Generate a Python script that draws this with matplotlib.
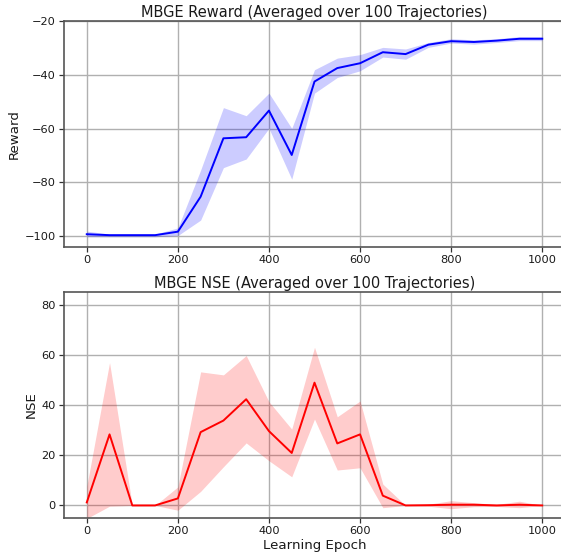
import numpy as np
import matplotlib
matplotlib.use("Agg")
import matplotlib.pyplot as plt

epochs = list(range(0, 1001, 50))

reward_mean = [-99.25, -99.6, -99.6, -99.6, -98.3, -85.3, -63.6, -63.2, -53.3, -69.8,
               -42.5, -37.5, -35.7, -31.6, -32.3, -28.8, -27.5, -27.8, -27.3, -26.6, -26.6]
reward_upper = [-98.1, -99.2, -99.2, -99.2, -96.9, -75.4, -52.2, -55.2, -46.8, -59.9,
                -38.1, -33.8, -32.5, -29.8, -30.4, -28.0, -26.6, -27.0, -26.6, -25.8, -25.8]
reward_lower = [-100.2, -100.2, -100.2, -100.2, -99.75, -94.0, -74.5, -71.3, -59.9, -78.8,
                -46.8, -41.0, -38.5, -33.4, -34.2, -29.8, -28.2, -28.6, -28.0, -27.3, -27.3]

nse_mean = [1.2, 28.3, 0.0, 0.0, 2.8, 29.2, 33.8, 42.3, 29.6, 20.9,
            48.9, 24.7, 28.3, 3.9, 0.0, 0.1, 0.3, 0.3, 0.0, 0.3, 0.0]
nse_upper = [7.6, 56.9, 0.0, 0.0, 7.4, 53.2, 52.0, 59.7, 41.3, 30.4,
             63.0, 35.3, 41.6, 8.5, 0.0, 0.5, 1.9, 1.1, 0.4, 1.7, 0.0]
nse_lower = [-5.2, -0.3, 0.0, 0.0, -1.9, 5.6, 15.4, 24.9, 17.8, 11.4,
             34.4, 14.1, 15.0, -0.9, 0.0, -0.3, -1.3, -0.5, -0.4, -0.9, 0.0]

W, H = 561, 556
fig = plt.figure(figsize=(W / 100, H / 100), dpi=100)
ax1 = fig.add_axes([64 / W, (H - 247) / H, 501 / W, 226 / H])
ax2 = fig.add_axes([64 / W, (H - 518) / H, 501 / W, 226 / H])

TXT = "#1a1a1a"

def style(ax):
    ax.grid(True, color="#b0b0b0", linewidth=1.0)
    ax.set_axisbelow(True)
    for s in ax.spines.values():
        s.set_color("#555555")
        s.set_linewidth(1.2)
    ax.tick_params(axis="both", labelsize=8.2, direction="out", length=3.5,
                   width=0.9, color="#333333", labelcolor=TXT, pad=2.5)
    ax.set_xlim(-50, 1050)
    ax.set_xticks([0, 200, 400, 600, 800, 1000])

ax1.fill_between(epochs, reward_lower, reward_upper, color="blue", alpha=0.2, linewidth=0)
ax1.plot(epochs, reward_mean, color="blue", linewidth=1.4)
style(ax1)
ax1.set_ylim(-104, -20)
ax1.set_yticks([-100, -80, -60, -40, -20])
ax1.set_ylabel("Reward", fontsize=9.6, color=TXT, labelpad=2.5)
ax1.set_title("MBGE Reward (Averaged over 100 Trajectories)", fontsize=10.5, color=TXT, pad=3)

ax2.fill_between(epochs, nse_lower, nse_upper, color="red", alpha=0.2, linewidth=0)
ax2.plot(epochs, nse_mean, color="red", linewidth=1.4)
style(ax2)
ax2.set_ylim(-5, 85)
ax2.set_yticks([0, 20, 40, 60, 80])
ax2.set_ylabel("NSE", fontsize=9.6, color=TXT, labelpad=2.5)
ax2.set_xlabel("Learning Epoch", fontsize=9.6, color=TXT, labelpad=2)
ax2.set_title("MBGE NSE (Averaged over 100 Trajectories)", fontsize=10.5, color=TXT, pad=3)

fig.savefig("out.png", dpi=100)
